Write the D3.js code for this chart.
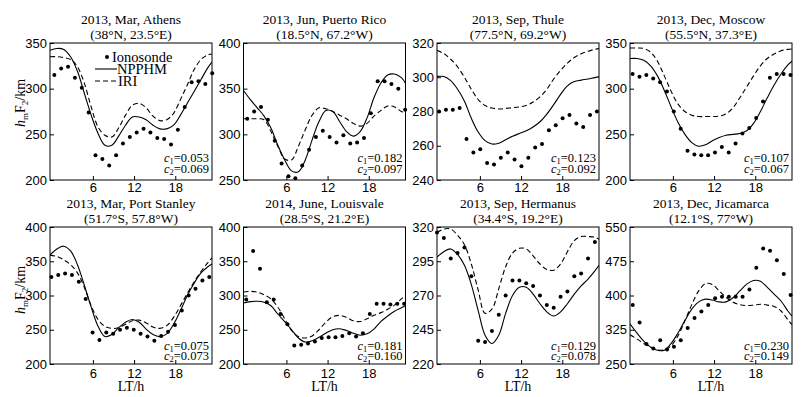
<!DOCTYPE html>
<html>
<head>
<meta charset="utf-8">
<script src="https://cdn.jsdelivr.net/npm/d3@7"></script>
<style>
  body { margin: 0; background: #fff; }
  svg { display: block; font-family: "Liberation Serif", "Times New Roman", serif; }
</style>
</head>
<body>
<svg id="chart" width="803" height="397"></svg>
<script>
// hmF2 diurnal variation, 8 stations: ionosonde (dots), NPPHM (solid), IRI (dashed)

const stationTitles = ["2013, Mar, Athens", "2013, Jun, Puerto Rico", "2013, Sep, Thule", "2013, Dec, Moscow",
  "2013, Mar, Port Stanley", "2014, June, Louisvale", "2013, Sep, Hermanus", "2013, Dec, Jicamarca"];
const stationCoords = ["(38°N, 23.5°E)", "(18.5°N, 67.2°W)", "(77.5°N, 69.2°W)", "(55.5°N, 37.3°E)",
  "(51.7°S, 57.8°W)", "(28.5°S, 21.2°E)", "(34.4°S, 19.2°E)", "(12.1°S, 77°W)"];
const yTicks = [
  [200, 250, 300, 350], [250, 300, 350, 400], [240, 260, 280, 300, 320], [200, 250, 300, 350],
  [200, 250, 300, 350, 400], [200, 250, 300, 350, 400], [220, 245, 270, 295, 320], [250, 325, 400, 475, 550]];
const xTicks = [6, 12, 18];
const c1Values = ["0.053", "0.182", "0.123", "0.107", "0.075", "0.181", "0.129", "0.230"];
const c2Values = ["0.069", "0.097", "0.092", "0.067", "0.073", "0.160", "0.078", "0.149"];

// hourly ionosonde samples, shifted to local time per station
const ltHours = [0, 1, 2, 3, 4, 5, 6, 7, 8, 9, 10, 11, 12, 13, 14, 15, 16, 17, 18, 19, 20, 21, 22, 23];
const obsOffset = [0.38, 0.3, 0.05, 0.13, -0.05, 0.15, -0.25, 0.15];
// model curves sampled across the whole axis
const modelHours = [-0.25, 0.75, 1.75, 2.75, 3.75, 4.75, 5.75, 6.75, 7.75, 8.75, 9.75, 10.75, 11.75,
  12.75, 13.75, 14.75, 15.75, 16.75, 17.75, 18.75, 19.75, 20.75, 21.75, 22.75, 23.35];

const athensObs = [315, 322, 324, 312, 301, 274, 227, 223, 216, 227, 240, 247, 252, 256, 252, 246, 245, 239, 255, 280, 307, 308, 305, 317];
const athensNpphm = [342, 344, 343, 335, 319, 295, 271, 251, 238, 238, 248, 260, 269, 269, 266, 260, 256, 256, 260, 271, 284, 297, 310, 323, 329];
const athensIri = [335, 335, 334, 332, 324, 306, 280, 258, 249, 247, 257, 271, 282, 284, 279, 270, 265, 266, 273, 288, 304, 321, 332, 337, 338];

const puertoRicoObs = [317, 325, 330, 316, 293, 268, 254, 252, 266, 283, 297, 304, 297, 291, 299, 290, 291, 296, 323, 358, 358, 355, 350, 327];
const puertoRicoNpphm = [348, 338, 329, 320, 307, 288, 272, 260, 259, 272, 294, 314, 326, 325, 314, 303, 298, 303, 318, 340, 356, 365, 366, 362, 356];
const puertoRicoIri = [317, 317, 317, 316, 303, 287, 273, 272, 287, 305, 321, 329, 328, 325, 321, 317, 312, 309, 312, 320, 326, 331, 330, 325, 323];

const thuleObs = [280, 281, 281, 282, 264, 256, 258, 250, 249, 253, 256, 252, 248, 253, 259, 261, 269, 272, 276, 278, 273, 271, 278, 280];
const thuleNpphm = [300.5, 300.4, 298, 293, 286, 276, 268, 263, 261, 261.5, 263.5, 265.5, 267.2, 268.8, 271, 274, 278.5, 284, 290, 295, 297.5, 298.3, 299, 299.8, 300.2];
const thuleIri = [315.7, 313.8, 310.5, 306, 300, 293, 287, 283.5, 282, 281.5, 281.8, 282.2, 282.7, 283.5, 285.5, 288.5, 293, 299, 304, 308.3, 311.5, 313.7, 315.2, 316.3, 316.7];

const moscowObs = [316, 313, 315, 311, 307, 297, 275, 256, 232, 228, 227, 227, 230, 236, 230, 240, 251, 257, 268, 286, 312, 316, 316, 315];
const moscowNpphm = [333, 333, 331, 325, 314, 298, 280, 263, 250, 241, 237, 238.5, 243, 246.5, 249, 250, 251, 254, 262, 275, 290, 304, 316, 326, 330];
const moscowIri = [344.5, 344.5, 344, 340, 330, 314, 297, 283, 275, 271, 269.5, 269.5, 269.5, 270, 272.5, 279, 290, 302, 314, 325, 333, 338, 341.5, 343, 343.5];

const portStanleyObs = [327, 330, 332, 330, 320, 295, 246, 235, 246, 244, 250, 253, 250, 244, 240, 234, 241, 247, 257, 278, 300, 310, 322, 327];
const portStanleyNpphm = [359, 368, 372, 365, 345, 315, 283, 255, 240, 243, 253, 261, 265, 261, 251, 243, 240, 244, 258, 278, 300, 318, 333, 342, 346];
const portStanleyIri = [359, 357, 352, 345, 333, 312, 285, 265, 255, 252, 253, 258, 263, 264, 260, 254, 252, 256, 268, 285, 303, 320, 335, 348, 355];

const louisvaleObs = [294, 365, 339, 290, 294, 273, 258, 227, 228, 230, 233, 238, 239, 239, 241, 245, 240, 245, 273, 288, 288, 287, 288, 288];
const louisvaleNpphm = [289, 291, 291.5, 290, 285, 273, 262, 250, 238, 232, 234, 239, 245, 250, 251.5, 249, 245, 242, 244, 251, 262, 270, 277, 282, 285];
const louisvaleIri = [305, 306, 305, 301, 295, 283, 266, 249, 240, 238, 241, 250, 261, 269, 271, 268, 263, 262, 266, 271, 275, 280, 286, 295, 300];

const hermanusObs = [316, 312, 297, 301, 305, 284, 237, 236, 244, 256, 270, 281, 281, 279, 277, 270, 263, 261, 269, 273, 284, 286, 297, 309];
const hermanusNpphm = [298, 302, 304, 300, 292, 278, 259, 241, 235, 241, 257, 270, 276, 276, 271, 264, 258, 255, 258, 264, 271, 277, 282, 288, 292];
const hermanusIri = [316, 318.5, 318.5, 314, 307, 293, 274, 257, 260, 275, 291, 301, 304.5, 304, 299, 293, 289, 288.5, 293, 302, 310, 313, 313, 312.5, 311];

const jicamarcaObs = [379, 341, 294, 284, 302, 282, 288, 302, 329, 351, 365, 379, 394, 397, 397, 397, 397, 413, 461, 503, 498, 477, 447, 401];
const jicamarcaNpphm = [338, 318, 300, 287, 280, 280, 295, 318, 345, 370, 386, 392, 390, 386, 386, 395, 410, 425, 433, 431, 418, 403, 388, 366, 355];
const jicamarcaIri = [314, 305, 295, 287, 281, 281, 290, 312, 345, 380, 410, 426, 424, 410, 396, 385, 380, 378, 379, 381, 379, 376, 366, 347, 336];

const panels = [
  { obs: athensObs, npphm: athensNpphm, iri: athensIri },
  { obs: puertoRicoObs, npphm: puertoRicoNpphm, iri: puertoRicoIri },
  { obs: thuleObs, npphm: thuleNpphm, iri: thuleIri },
  { obs: moscowObs, npphm: moscowNpphm, iri: moscowIri },
  { obs: portStanleyObs, npphm: portStanleyNpphm, iri: portStanleyIri },
  { obs: louisvaleObs, npphm: louisvaleNpphm, iri: louisvaleIri },
  { obs: hermanusObs, npphm: hermanusNpphm, iri: hermanusIri },
  { obs: jicamarcaObs, npphm: jicamarcaNpphm, iri: jicamarcaIri },
];

// ── layout ───────────────────────────────────────────────────────────────
const colLeft = [50, 243.5, 437, 630];
const rowTop = [43, 227];
const plotW = 162, plotH = 137;
const xDomain = [-0.25, 23.35];

const svg = d3.select("#chart");
const defs = svg.append("defs");

panels.forEach((p, i) => {
  const col = i % 4, row = Math.floor(i / 4);
  const left = colLeft[col], top = rowTop[row];
  const bottom = top + plotH, right = left + plotW;
  const x = d3.scaleLinear().domain(xDomain).range([left, right]);
  const y = d3.scaleLinear().domain(d3.extent(yTicks[i])).range([bottom, top]);
  const g = svg.append("g");

  defs.append("clipPath").attr("id", "clip" + i)
    .append("rect").attr("x", left).attr("y", top).attr("width", plotW).attr("height", plotH);

  // titles
  g.append("text").attr("x", (left + right) / 2).attr("y", top - 19)
    .attr("text-anchor", "middle").attr("font-size", 13.5).text(stationTitles[i]);
  g.append("text").attr("x", (left + right) / 2).attr("y", top - 4)
    .attr("text-anchor", "middle").attr("font-size", 13.5).text(stationCoords[i]);

  // axes: inner ticks, labels outside
  const yAxis = d3.axisLeft(y).tickValues(yTicks[i]).tickSize(-4).tickPadding(3);
  const xAxis = d3.axisBottom(x).tickValues(xTicks).tickSize(-4).tickPadding(row === 0 ? 3 : 5);
  g.append("g").attr("transform", `translate(${left},0)`).call(yAxis)
    .call(a => a.select(".domain").remove())
    .call(a => a.selectAll("text").attr("font-size", 13).attr("font-family", null).attr("fill", "#000"));
  g.append("g").attr("transform", `translate(0,${bottom})`).call(xAxis)
    .call(a => a.select(".domain").remove())
    .call(a => a.selectAll("text").attr("font-size", 13).attr("font-family", null).attr("fill", "#000"));
  g.selectAll(".tick line").attr("stroke", "#000");

  // model curves
  const line = d3.line().x((d, k) => x(modelHours[k])).y(d => y(d)).curve(d3.curveCatmullRom);
  const curves = g.append("g").attr("clip-path", `url(#clip${i})`);
  curves.append("path").attr("d", line(p.npphm))
    .attr("fill", "none").attr("stroke", "#000").attr("stroke-width", 1.1);
  curves.append("path").attr("d", line(p.iri))
    .attr("fill", "none").attr("stroke", "#000").attr("stroke-width", 1.1).attr("stroke-dasharray", "5,3");

  // ionosonde
  g.append("g").selectAll("circle").data(p.obs).join("circle")
    .attr("cx", (d, k) => x(ltHours[k] + obsOffset[i]))
    .attr("cy", d => y(d)).attr("r", 2).attr("fill", "#000");

  // frame
  g.append("rect").attr("x", left).attr("y", top).attr("width", plotW).attr("height", plotH)
    .attr("fill", "none").attr("stroke", "#000").attr("stroke-width", 1);

  // fit coefficients
  const cOff = row === 0 ? [18, 7.5] : [14.5, 4.5];
  [[c1Values[i], "1"], [c2Values[i], "2"]].forEach(([val, sub], k) => {
    const t = g.append("text").attr("x", right - 3).attr("y", bottom - cOff[k])
      .attr("text-anchor", "end").attr("font-size", 12.5);
    t.append("tspan").attr("font-style", "italic").text("c");
    t.append("tspan").attr("font-size", 8.5).attr("dy", 2).text(sub);
    t.append("tspan").attr("dy", -2).text("=" + val);
  });

  // y label on first column
  if (col === 0) {
    const cy = row === 0 ? 103 : 290;
    const t = svg.append("text").attr("transform", `translate(25,${cy}) rotate(-90)`)
      .attr("text-anchor", "middle").attr("font-size", 14);
    t.append("tspan").attr("font-style", "italic").text("h");
    t.append("tspan").attr("font-size", 9).attr("dy", 2.5).text("m");
    t.append("tspan").attr("dy", -2.5).text("F");
    t.append("tspan").attr("font-size", 9).attr("dy", 2.5).text("2");
    t.append("tspan").attr("dy", -2.5).text("/km");
  }
  // x label on bottom row
  if (row === 1) {
    svg.append("text").attr("x", (left + right) / 2).attr("y", bottom + 27)
      .attr("text-anchor", "middle").attr("font-size", 14).text("LT/h");
  }
});

// ── legend (first panel only) ────────────────────────────────────────────
const lg = svg.append("g").attr("font-size", 14.5);
lg.append("circle").attr("cx", 107).attr("cy", 57).attr("r", 2).attr("fill", "#000");
lg.append("text").attr("x", 112).attr("y", 62).text("Ionosonde");
lg.append("line").attr("x1", 95).attr("x2", 117).attr("y1", 69).attr("y2", 69)
  .attr("stroke", "#000").attr("stroke-width", 1.1);
lg.append("text").attr("x", 117).attr("y", 74).text("NPPHM");
lg.append("line").attr("x1", 95).attr("x2", 118).attr("y1", 81).attr("y2", 81)
  .attr("stroke", "#000").attr("stroke-width", 1.1).attr("stroke-dasharray", "5,3");
lg.append("text").attr("x", 118).attr("y", 86).text("IRI");
</script>
</body>
</html>
